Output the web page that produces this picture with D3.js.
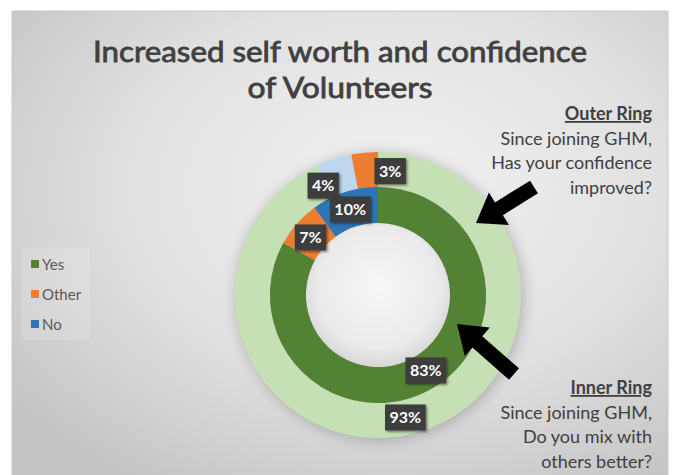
<!DOCTYPE html>
<html>
<head>
<meta charset="utf-8">
<script src="https://cdn.jsdelivr.net/npm/d3@7/dist/d3.min.js"></script>
<style>
  html, body { margin: 0; padding: 0; background: #ffffff; }
  svg { display: block; }
</style>
</head>
<body>
<svg id="chart" width="678" height="475"></svg>
<script>
// Survey answers
const categories = ["Yes", "Other", "No"];
// Inner ring: "Do you mix with others better?"
const innerValues = [83, 7, 10];
// Outer ring: "Has your confidence improved?"
const outerValues = [93, 3, 4];
// Clockwise drawing order of the outer ring
const outerOrder = ["Yes", "No", "Other"];

const legendColors = { Yes: "#548235", Other: "#ed7d31", No: "#2e75b6" };
const innerColors = { Yes: "#548235", Other: "#ed7d31", No: "#2e75b6" };
const outerColors = { Yes: "#c5e0b4", Other: "#ed7d31", No: "#bdd7ee" };

const font = "Lato, 'Open Sans', sans-serif";
const textColor = "#404040";

const svg = d3.select("#chart");
const defs = svg.append("defs");

// Chart area background
const bg = defs.append("radialGradient").attr("id", "bgGrad")
  .attr("cx", "0.58").attr("cy", "0.38").attr("r", "0.75");
bg.append("stop").attr("offset", "0").attr("stop-color", "#f3f3f3");
bg.append("stop").attr("offset", "0.55").attr("stop-color", "#e0e0e0");
bg.append("stop").attr("offset", "1").attr("stop-color", "#c3c3c3");

const hole = defs.append("radialGradient").attr("id", "holeGrad")
  .attr("cx", "0.5").attr("cy", "0.45").attr("r", "0.55");
hole.append("stop").attr("offset", "0").attr("stop-color", "#f6f6f6");
hole.append("stop").attr("offset", "0.75").attr("stop-color", "#ebebeb");
hole.append("stop").attr("offset", "1").attr("stop-color", "#d6d6d6");

defs.append("filter").attr("id", "glow")
  .attr("x", "-30%").attr("y", "-30%").attr("width", "160%").attr("height", "160%")
  .append("feGaussianBlur").attr("stdDeviation", 7);

const shadow = defs.append("filter").attr("id", "boxShadow")
  .attr("x", "-30%").attr("y", "-30%").attr("width", "160%").attr("height", "160%");
shadow.append("feDropShadow").attr("dx", 1.5).attr("dy", 1.5)
  .attr("stdDeviation", 1.2).attr("flood-color", "#000").attr("flood-opacity", 0.45);

svg.append("rect").attr("x", 12).attr("y", 11).attr("width", 656).attr("height", 470)
  .attr("fill", "url(#bgGrad)").attr("stroke", "#c9c9c9").attr("stroke-width", 1);

// Title, two lines
const titleLines = [
  { text: "Increased self worth and confidence", y: 62, len: 494 },
  { text: "of Volunteers", y: 97.5, len: 185 }
];
titleLines.forEach(l => {
  svg.append("text").attr("x", 340).attr("y", l.y).attr("text-anchor", "middle")
    .attr("font-family", font).attr("font-size", 28.5)
    .attr("fill", textColor).attr("stroke", textColor).attr("stroke-width", 0.8)
    .attr("textLength", l.len).attr("lengthAdjust", "spacingAndGlyphs")
    .text(l.text);
});

// Donut geometry
const cx = 378, cy = 295;
const r0 = 72, r1 = 108, r2 = 143;
const g = svg.append("g").attr("transform", `translate(${cx},${cy})`);

g.append("circle").attr("cx", 2).attr("cy", 2).attr("r", r2 + 1)
  .attr("fill", "#8a8a8a").attr("opacity", 0.55).attr("filter", "url(#glow)");
g.append("circle").attr("r", r0 + 1).attr("fill", "url(#holeGrad)");

const innerPie = d3.pie().sort(null).value(d => d.value);
const outerPie = d3.pie()
  .sort((a, b) => outerOrder.indexOf(a.cat) - outerOrder.indexOf(b.cat))
  .value(d => d.value);

const innerData = innerPie(categories.map((c, i) => ({ cat: c, value: innerValues[i] })));
const outerData = outerPie(categories.map((c, i) => ({ cat: c, value: outerValues[i] })));

const innerArc = d3.arc().innerRadius(r0).outerRadius(r1);
const outerArc = d3.arc().innerRadius(r1).outerRadius(r2);

g.selectAll("path.outer").data(outerData).join("path").attr("class", "outer")
  .attr("d", outerArc).attr("fill", d => outerColors[d.data.cat]);
g.selectAll("path.inner").data(innerData).join("path").attr("class", "inner")
  .attr("d", innerArc).attr("fill", d => innerColors[d.data.cat]);

// Data labels: centred on their slice, small nudges where slices are thin
const outerNudge = { Yes: [0, 0], Other: [24, 1], No: [-16, 10] };
const innerNudge = { Yes: [2, -2], Other: [0, 2], No: [0, 0] };

function drawLabel(d, arc, nudge) {
  const [x, y] = arc.centroid(d);
  const n = nudge[d.data.cat];
  const lg = g.append("g").attr("transform", `translate(${x + n[0]},${y + n[1]})`);
  const t = lg.append("text").attr("text-anchor", "middle").attr("dy", "0.36em")
    .attr("font-family", font).attr("font-weight", "bold").attr("font-size", 16)
    .attr("fill", "#ffffff").text(d.data.value + "%");
  const w = t.node().getComputedTextLength() + 9;
  lg.insert("rect", "text").attr("x", -w / 2).attr("y", -13).attr("width", w).attr("height", 26)
    .attr("fill", "#3d3d3d").attr("filter", "url(#boxShadow)");
}
outerData.forEach(d => drawLabel(d, outerArc, outerNudge));
innerData.forEach(d => drawLabel(d, innerArc, innerNudge));

// Block arrows pointing at each ring
function blockArrow(tail, tip, shaftW, headW, headL) {
  const dx = tip[0] - tail[0], dy = tip[1] - tail[1];
  const len = Math.hypot(dx, dy);
  const ux = dx / len, uy = dy / len, px = -uy, py = ux;
  const bx = tip[0] - ux * headL, by = tip[1] - uy * headL;
  const pts = [
    [tail[0] + px * shaftW / 2, tail[1] + py * shaftW / 2],
    [bx + px * shaftW / 2, by + py * shaftW / 2],
    [bx + px * headW / 2, by + py * headW / 2],
    tip,
    [bx - px * headW / 2, by - py * headW / 2],
    [bx - px * shaftW / 2, by - py * shaftW / 2],
    [tail[0] - px * shaftW / 2, tail[1] - py * shaftW / 2]
  ];
  svg.append("path").attr("d", d3.line()(pts) + "Z").attr("fill", "#000");
}
blockArrow([534, 187], [476, 223], 15, 38, 27);
blockArrow([514, 374], [457, 324], 15, 38, 27);

// Ring captions
function caption(lines, y0) {
  const t = svg.append("text").attr("text-anchor", "end")
    .attr("font-family", font).attr("font-size", 18).attr("fill", textColor);
  lines.forEach((s, i) => {
    const ts = t.append("tspan").attr("x", 652).attr("y", y0 + i * 24.5).text(s);
    if (i === 0) ts.attr("font-weight", "bold").attr("text-decoration", "underline");
  });
}
caption(["Outer Ring", "Since joining GHM,", "Has your confidence", "improved?"], 120);
caption(["Inner Ring", "Since joining GHM,", "Do you mix with", "others better?"], 394);

// Legend
svg.append("rect").attr("x", 22).attr("y", 247).attr("width", 68).attr("height", 93)
  .attr("fill", "#ffffff").attr("opacity", 0.15);
const leg = svg.append("g").selectAll("g").data(categories).join("g")
  .attr("transform", (d, i) => `translate(31,${265 + i * 30})`);
leg.append("rect").attr("x", 0).attr("y", -5).attr("width", 8).attr("height", 8)
  .attr("fill", d => legendColors[d]);
leg.append("text").attr("x", 11).attr("y", 0).attr("dy", "0.35em")
  .attr("font-family", font).attr("font-size", 15).attr("fill", "#595959").text(d => d);
</script>
</body>
</html>
